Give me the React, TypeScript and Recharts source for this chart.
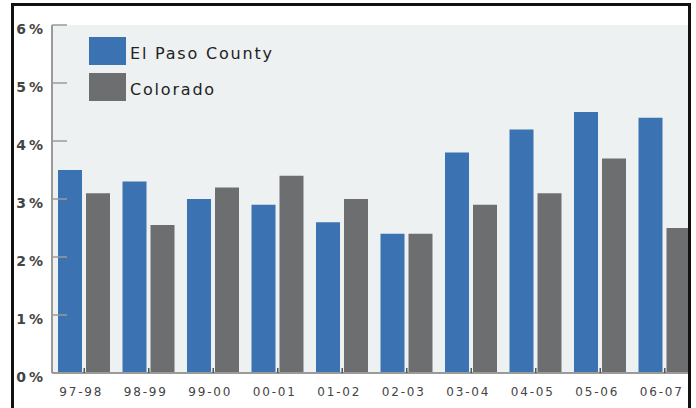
import React from 'react'
import { BarChart, Bar, XAxis, YAxis, CartesianGrid, Legend } from 'recharts'

const seasons = ['97-98', '98-99', '99-00', '00-01', '01-02', '02-03', '03-04', '04-05', '05-06', '06-07']
const elPasoCounty = [3.5, 3.3, 3.0, 2.9, 2.6, 2.4, 3.8, 4.2, 4.5, 4.4]
const colorado = [3.1, 2.55, 3.2, 3.4, 3.0, 2.4, 2.9, 3.1, 3.7, 2.5]
const yTicks = [0, 1, 2, 3, 4, 5, 6]

const BLUE = '#3b72b2'
const GRAY = '#6d6e70'
const FONT = '"DejaVu Sans", sans-serif'

const chartData = seasons.map((s, i) => ({
  season: s,
  elPaso: elPasoCounty[i],
  colorado: colorado[i],
}))

const legendItems = [
  { label: 'El Paso County', color: BLUE },
  { label: 'Colorado', color: GRAY },
]

function YTick({ x, y, payload }: any) {
  return (
    <g>
      <line x1={x} x2={x + 15} y1={y} y2={y} stroke="#9a9a9a" strokeWidth={1.5} />
      <text
        x={x - 6}
        y={y + 4}
        textAnchor="end"
        dominantBaseline="central"
        fontFamily={FONT}
        fontSize={14}
        fontWeight="bold"
        letterSpacing={3}
        fill="#444"
      >
        {payload.value}%
      </text>
    </g>
  )
}

function XTick({ x, y, payload }: any) {
  return (
    <g>
      <line x1={x} x2={x} y1={y} y2={y - 5} stroke="#555" strokeWidth={1.5} />
      <text
        x={x - 3}
        y={y + 19}
        textAnchor="middle"
        dominantBaseline="central"
        fontFamily={FONT}
        fontSize={12}
        letterSpacing={1.8}
        fill="#444"
      >
        {payload.value}
      </text>
    </g>
  )
}

function LegendBox() {
  return (
    <div style={{ fontFamily: FONT }}>
      {legendItems.map(item => (
        <div key={item.label} style={{ display: 'flex', alignItems: 'center', height: 36 }}>
          <div style={{ width: 37, height: 28, background: item.color }} />
          <span style={{ marginLeft: 4, fontSize: 16, letterSpacing: 1.8, color: '#222', marginTop: 4 }}>
            {item.label}
          </span>
        </div>
      ))}
    </div>
  )
}

export default function App() {
  return (
    <>
      <style>{'body { margin: 0; }'}</style>
      <div style={{ position: 'relative', width: 696, height: 408, overflow: 'hidden', background: '#fff' }}>
        <div style={{ position: 'absolute', left: 0, top: 0, width: 690, height: 408, overflow: 'hidden' }}>
          <BarChart
            width={700}
            height={408}
            data={chartData}
            margin={{ top: 25, right: 3, left: 0, bottom: 5 }}
            barSize={24}
            barGap={4}
          >
            <CartesianGrid horizontal={false} vertical={false} fill="#eef1f2" />
            <XAxis
              dataKey="season"
              height={30}
              tickSize={0}
              tickMargin={0}
              tickLine={false}
              axisLine={{ stroke: '#9a9a9a', strokeWidth: 2 }}
              tick={<XTick />}
              interval={0}
            />
            <YAxis
              width={52}
              domain={[0, 6]}
              ticks={yTicks}
              tickSize={0}
              tickMargin={0}
              tickLine={false}
              axisLine={{ stroke: '#9a9a9a', strokeWidth: 2 }}
              tick={<YTick />}
            />
            <Legend
              layout="vertical"
              align="center"
              verticalAlign="middle"
              content={<LegendBox />}
              wrapperStyle={{ left: 89, top: 33, width: 'auto', height: 'auto' }}
            />
            <Bar dataKey="elPaso" fill={BLUE} isAnimationActive={false} />
            <Bar dataKey="colorado" fill={GRAY} isAnimationActive={false} />
          </BarChart>
        </div>
        <div
          style={{
            position: 'absolute',
            left: 11,
            top: 3,
            width: 680,
            height: 420,
            boxSizing: 'border-box',
            borderTop: '3px solid #111',
            borderLeft: '3px solid #111',
            borderRight: '3px solid #111',
            zIndex: 5,
            pointerEvents: 'none',
          }}
        />
      </div>
    </>
  )
}
